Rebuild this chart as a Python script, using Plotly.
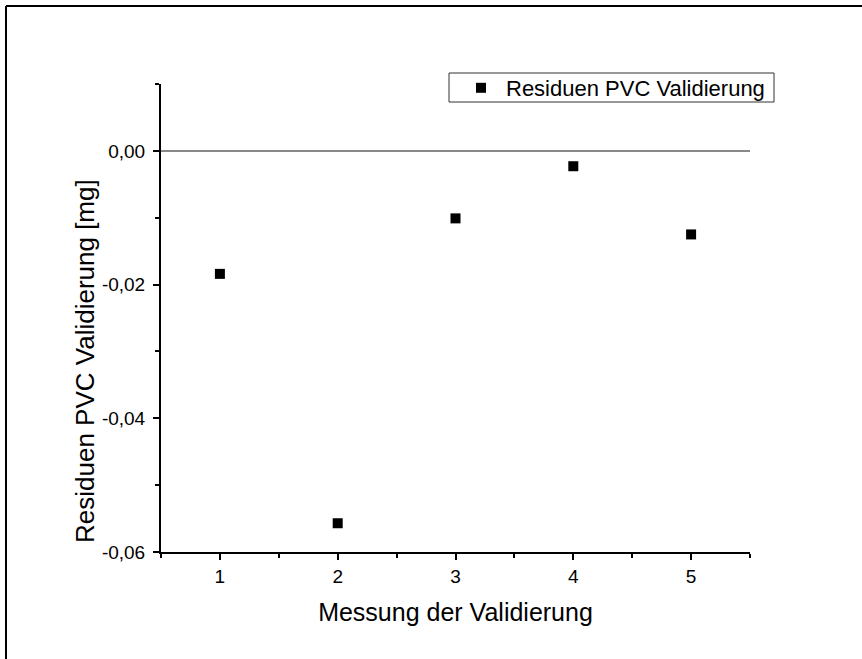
import plotly.graph_objects as go

messung = [1, 2, 3, 4, 5]
residuen = [-0.0184, -0.0557, -0.0101, -0.0023, -0.0125]
series_name = "Residuen PVC Validierung"
x_title = "Messung der Validierung"
y_title = "Residuen PVC Validierung [mg]"
y_tickvals = [0.0, -0.02, -0.04, -0.06]
y_ticktext = ["0,00", "-0,02", "-0,04", "-0,06"]

fig = go.Figure()
fig.add_trace(go.Scatter(
    x=messung, y=residuen, mode="markers", name=series_name,
    marker=dict(symbol="square", size=10, color="black"),
    showlegend=True,
))

FONT = "Liberation Sans, Arial, sans-serif"
W, H = 862, 659
L, R, T, B = 161, 112, 84, 107
pw, ph = W - L - R, H - T - B

def px(xp):
    return (xp - L) / pw

def py(yp):
    return (H - B - yp) / ph

fig.update_layout(
    width=W, height=H,
    margin=dict(l=L, r=R, t=T, b=B, autoexpand=False),
    paper_bgcolor="white", plot_bgcolor="white",
    separators=",.",
    font=dict(family=FONT, color="black", size=19),
    showlegend=True,
    legend=dict(
        x=px(456), y=py(67), xanchor="left", yanchor="top",
        bgcolor="rgba(0,0,0,0)", borderwidth=0,
        font=dict(size=22, family=FONT), itemwidth=40,
    ),
    xaxis=dict(
        range=[0.5, 5.5], dtick=1, tick0=0, showgrid=False, zeroline=False,
        showline=True, linecolor="black", linewidth=2,
        ticks="outside", ticklen=6, tickwidth=2, tickcolor="black",
        minor=dict(dtick=0.5, tick0=0, ticks="outside", ticklen=4, tickwidth=2, tickcolor="black"),
        tickfont=dict(size=19),
        title=dict(text=x_title, font=dict(size=25), standoff=18),
    ),
    yaxis=dict(
        range=[-0.06, 0.01], tickmode="array", tickvals=y_tickvals, ticktext=y_ticktext,
        showgrid=False,
        zeroline=True, zerolinecolor="#888888", zerolinewidth=1.5,
        showline=True, linecolor="black", linewidth=2,
        ticks="outside", ticklen=6, tickwidth=2, tickcolor="black",
        ticklabelstandoff=4,
        minor=dict(dtick=0.01, tick0=0, ticks="outside", ticklen=4, tickwidth=2, tickcolor="black"),
        tickfont=dict(size=19),
    ),
    annotations=[
        dict(text=y_title, xref="paper", yref="paper", x=px(85), y=py(361),
             xanchor="center", yanchor="middle", textangle=-90, showarrow=False,
             font=dict(size=26, family=FONT, color="black")),
    ],
    shapes=[
        dict(type="line", xref="paper", yref="paper", x0=px(6), x1=px(6), y0=py(668), y1=py(6),
             line=dict(color="black", width=2)),
        dict(type="line", xref="paper", yref="paper", x0=px(6), x1=px(862), y0=py(6), y1=py(6),
             line=dict(color="black", width=2)),
        dict(type="rect", xref="paper", yref="paper", x0=px(449), x1=px(774), y0=py(102), y1=py(73),
             line=dict(color="#333333", width=1), fillcolor="rgba(0,0,0,0)"),
    ],
)

fig.write_html(
    "out.html",
    config={"displayModeBar": False},
    post_script=(
        "document.body.style.margin='0';"
        "document.body.style.overflow='hidden';"
        "document.documentElement.style.overflow='hidden';"
    ),
)
